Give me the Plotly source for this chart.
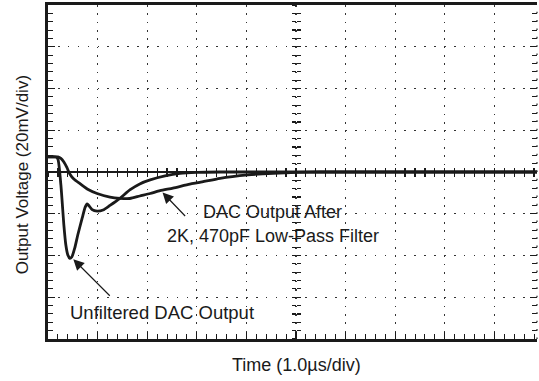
import plotly.graph_objects as go

# Time in microseconds (1.0 us/div), voltage in mV (20 mV/div)
t_unfiltered = [0, 0.16, 0.20, 0.26, 0.32, 0.36, 0.40, 0.44, 0.48, 0.54, 0.60, 0.69, 0.75,
                0.79, 0.83, 0.89, 0.99, 1.11, 1.25, 1.45, 1.65, 1.85, 2.06, 2.36, 2.66,
                3.00, 3.47, 9.86]
v_unfiltered = [7.2, 7.2, 6.2, -6.2, -25.4, -35.0, -39.8, -41.4, -40.7, -36.4, -30.2, -22.0, -16.8,
                -15.3, -16.3, -18.0, -18.7, -18.2, -16.0, -12.6, -8.6, -5.7, -3.8, -1.9, -0.7,
                -0.2, 0, 0]

t_filtered = [0, 0.20, 0.26, 0.32, 0.38, 0.44, 0.52, 0.65, 0.81, 0.99, 1.25, 1.45, 1.65,
              1.85, 2.06, 2.26, 2.52, 2.86, 3.06, 3.47, 4.03, 4.54, 5.02, 5.48, 9.86]
v_filtered = [7.2, 7.2, 6.5, 4.8, 2.2, -1.0, -3.4, -5.7, -8.4, -10.3, -12.0, -12.6, -12.7,
              -11.5, -10.3, -8.9, -7.7, -5.8, -5.0, -3.0, -1.4, -0.6, -0.2, 0, 0]

x_range = [0, 9.86]
y_range = [-80, 80]
x_div = 1.0
y_div = 20

label_filtered = ["DAC Output After", "2K, 470pF Low-Pass Filter"]
label_unfiltered = "Unfiltered DAC Output"
x_title = "Time (1.0\u00b5s/div)"
y_title = "Output Voltage (20mV/div)"

FONT = "Liberation Sans, Arial, Helvetica, sans-serif"
INK = "#1a1a1a"
LABEL_SIZE = 18

fig = go.Figure()
fig.add_trace(go.Scatter(x=t_filtered, y=v_filtered, mode="lines",
                         line=dict(color=INK, width=2.8, shape="spline", smoothing=0.6),
                         hoverinfo="skip", showlegend=False))
fig.add_trace(go.Scatter(x=t_unfiltered, y=v_unfiltered, mode="lines",
                         line=dict(color=INK, width=2.8, shape="spline", smoothing=0.6),
                         hoverinfo="skip", showlegend=False))

# empty traces to register overlay axes (center crosshair ticks, right border ticks)
for xa, ya in [("x2", "y"), ("x3", "y"), ("x", "y2"), ("x", "y3"), ("x", "y4")]:
    fig.add_trace(go.Scatter(x=[], y=[], xaxis=xa, yaxis=ya, showlegend=False, hoverinfo="skip"))

common_hidden = dict(showgrid=False, zeroline=False, showticklabels=False, showline=False)

fig.update_layout(
    width=539, height=381,
    margin=dict(l=48, r=2, t=5, b=42, autoexpand=False),
    paper_bgcolor="white", plot_bgcolor="white",
    font=dict(family=FONT, size=16, color=INK),
    xaxis=dict(range=x_range, dtick=x_div, tick0=0, showticklabels=False,
               showline=True, linecolor=INK, linewidth=2.8, mirror=True,
               ticks="inside", ticklen=7, tickwidth=1.2, tickcolor=INK,
               minor=dict(dtick=0.2 * x_div, ticks="inside", ticklen=5, tickwidth=1, tickcolor=INK, showgrid=False),
               showgrid=True, gridcolor="#333333", gridwidth=1.3, griddash="1.6px,6.75px",
               zeroline=False, fixedrange=True, automargin=False),
    yaxis=dict(range=y_range, dtick=y_div, tick0=0, showticklabels=False,
               showline=True, linecolor=INK, linewidth=2.8, mirror=False,
               ticks="inside", ticklen=7, tickwidth=1.2, tickcolor=INK,
               minor=dict(dtick=0.2 * y_div, ticks="inside", ticklen=5, tickwidth=1, tickcolor=INK, showgrid=False),
               showgrid=True, gridcolor="#333333", gridwidth=1.3, griddash="1.6px,8.3px",
               zeroline=True, zerolinecolor=INK, zerolinewidth=1.6, fixedrange=True, automargin=False),
    # right border ticks
    yaxis2=dict(range=y_range, overlaying="y", side="right", anchor="x", dtick=y_div, tick0=0,
                ticks="inside", ticklen=7, tickwidth=1.2, tickcolor=INK,
                minor=dict(dtick=0.2 * y_div, ticks="inside", ticklen=5, tickwidth=1, tickcolor=INK),
                automargin=False, **common_hidden),
    # horizontal center line ticks (crossing)
    xaxis2=dict(range=x_range, overlaying="x", anchor="free", position=0.5, dtick=x_div, tick0=0,
                ticks="outside", ticklen=4, tickwidth=1.2, tickcolor=INK,
                minor=dict(dtick=0.2 * x_div, ticks="outside", ticklen=4, tickwidth=1.2, tickcolor=INK),
                automargin=False, **common_hidden),
    xaxis3=dict(range=x_range, overlaying="x", anchor="free", position=0.5, dtick=x_div, tick0=0,
                ticks="inside", ticklen=4, tickwidth=1.2, tickcolor=INK,
                minor=dict(dtick=0.2 * x_div, ticks="inside", ticklen=4, tickwidth=1.2, tickcolor=INK),
                automargin=False, **common_hidden),
    # vertical center line ticks (crossing)
    yaxis3=dict(range=y_range, overlaying="y", anchor="free", position=5 / x_range[1], dtick=y_div, tick0=0,
                ticks="outside", ticklen=4, tickwidth=1.2, tickcolor=INK,
                minor=dict(dtick=0.2 * y_div, ticks="outside", ticklen=4, tickwidth=1.2, tickcolor=INK),
                automargin=False, **common_hidden),
    yaxis4=dict(range=y_range, overlaying="y", anchor="free", position=5 / x_range[1], dtick=y_div, tick0=0,
                ticks="inside", ticklen=4, tickwidth=1.2, tickcolor=INK,
                minor=dict(dtick=0.2 * y_div, ticks="inside", ticklen=4, tickwidth=1.2, tickcolor=INK),
                automargin=False, **common_hidden),
)

fig.add_shape(type="line", xref="paper", yref="paper", x0=1, x1=1, y0=0, y1=1,
              line=dict(color="#333333", width=1.3, dash="1.6px,6.75px"))

ann = []
ann.append(dict(x=4.53, y=-19.2, xref="x", yref="y", text=label_filtered[0], showarrow=False,
                xanchor="center", yanchor="middle", font=dict(size=LABEL_SIZE)))
ann.append(dict(x=4.53, y=-30.7, xref="x", yref="y", text=label_filtered[1], showarrow=False,
                xanchor="center", yanchor="middle", font=dict(size=LABEL_SIZE)))
ann.append(dict(x=0.40, y=-67.1, xref="x", yref="y", text=label_unfiltered, showarrow=False,
                xanchor="left", yanchor="middle", font=dict(size=18.5)))
# arrows
ann.append(dict(x=2.31, y=-9.8, xref="x", yref="y", text="", showarrow=True,
                ax=24, ay=25, arrowhead=2, arrowsize=1.8, arrowwidth=1.2, arrowcolor=INK))
ann.append(dict(x=0.51, y=-41.8, xref="x", yref="y", text="", showarrow=True,
                ax=38, ay=38, arrowhead=2, arrowsize=1.8, arrowwidth=1.2, arrowcolor=INK))
# axis titles
ann.append(dict(x=0.509, y=0, xref="paper", yref="paper", yshift=-26, text=x_title, showarrow=False,
                xanchor="center", yanchor="middle", font=dict(size=LABEL_SIZE)))
ann.append(dict(x=0, y=0.49, xref="paper", yref="paper", xshift=-26, text=y_title, showarrow=False,
                textangle=-90, xanchor="center", yanchor="middle", font=dict(size=17)))
fig.update_layout(annotations=ann)

fig.write_html("out.html", config={"displayModeBar": False, "staticPlot": True},
               post_script="document.body.style.margin='0';document.body.style.overflow='hidden';")
